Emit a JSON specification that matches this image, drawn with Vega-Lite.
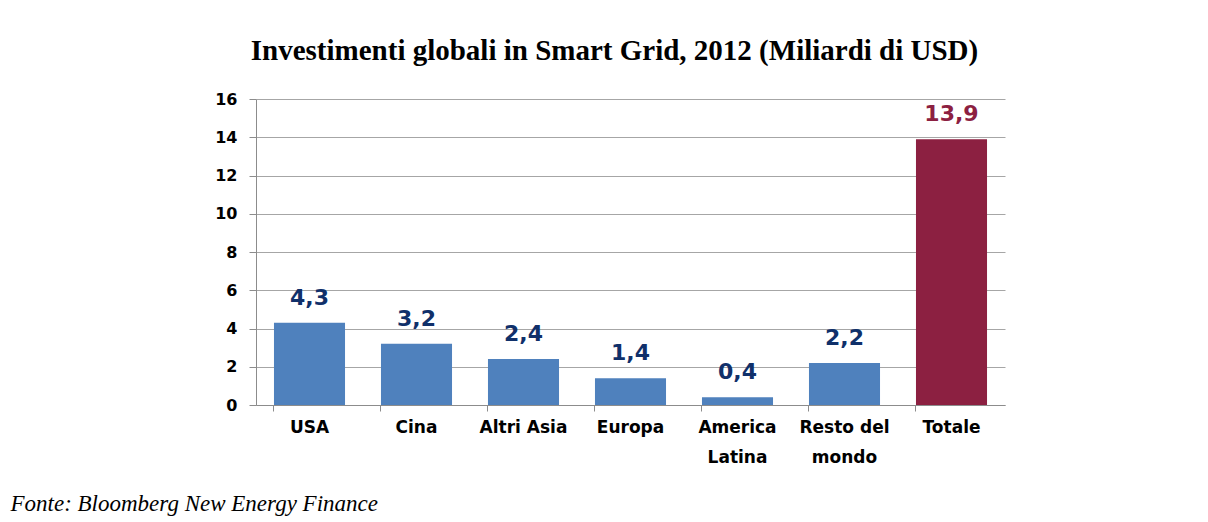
{
  "$schema": "https://vega.github.io/schema/vega-lite/v6.json",
  "autosize": "none",
  "width": 749,
  "height": 306,
  "padding": {"left": 256, "top": 99, "right": 203, "bottom": 117},
  "background": "white",
  "config": {
    "view": {"stroke": null},
    "locale": {"number": {"decimal": ",", "thousands": ".", "grouping": [3], "currency": ["", " €"]}}
  },
  "title": {
    "text": "Investimenti globali in Smart Grid, 2012 (Miliardi di USD)",
    "font": "Liberation Serif",
    "fontSize": 29,
    "fontWeight": "bold",
    "color": "black",
    "anchor": "middle",
    "dx": -16,
    "baseline": "alphabetic",
    "offset": 2
  },
  "data": {
    "values": [
      {"cat": "USA", "val": 4.3, "tipo": "regione"},
      {"cat": "Cina", "val": 3.2, "tipo": "regione"},
      {"cat": "Altri Asia", "val": 2.4, "tipo": "regione"},
      {"cat": "Europa", "val": 1.4, "tipo": "regione"},
      {"cat": "America Latina", "val": 0.4, "tipo": "regione"},
      {"cat": "Resto del mondo", "val": 2.2, "tipo": "regione"},
      {"cat": "Totale", "val": 13.9, "tipo": "totale"}
    ]
  },
  "encoding": {
    "y": {
      "field": "val", "type": "quantitative",
      "scale": {"domain": [0, 16]},
      "axis": {
        "title": null,
        "values": [0, 2, 4, 6, 8, 10, 12, 14, 16],
        "labelFont": "DejaVu Sans",
        "labelFontWeight": "bold",
        "labelFontSize": 16,
        "labelColor": "black",
        "labelPadding": 12,
        "tickSize": 7,
        "tickColor": "#8C8C8C",
        "domainColor": "#8C8C8C",
        "gridColor": "#A6A6A6",
        "grid": true
      }
    }
  },
  "layer": [
    {
      "mark": {"type": "bar"},
      "encoding": {
        "x": {
          "field": "cat", "type": "nominal", "sort": null,
          "scale": {"paddingInner": 0.336, "paddingOuter": 0.168},
          "axis": {
            "orient": "bottom",
            "title": null,
            "labelAngle": 0,
            "labelFont": "DejaVu Sans",
            "labelFontWeight": "bold",
            "labelFontSize": 17,
            "labelColor": "black",
            "labelBaseline": "top",
            "labelPadding": 14,
            "labelLineHeight": 30,
            "labelExpr": "datum.label == 'America Latina' ? ['America','Latina'] : datum.label == 'Resto del mondo' ? ['Resto del','mondo'] : datum.label",
            "ticks": false,
            "domain": true,
            "domainColor": "#8C8C8C",
            "domainWidth": 1
          }
        },
        "color": {
          "field": "tipo", "type": "nominal",
          "scale": {"domain": ["regione", "totale"], "range": ["#4F81BD", "#8C2041"]},
          "legend": null
        }
      }
    },
    {
      "mark": {"type": "text", "baseline": "alphabetic", "dy": -18, "font": "DejaVu Sans", "fontWeight": "bold", "fontSize": 22},
      "encoding": {
        "x": {
          "field": "cat", "type": "nominal", "sort": null,
          "axis": {
            "orient": "bottom",
            "bandPosition": 0,
            "labels": false,
            "domain": false,
            "ticks": true,
            "tickSize": 6,
            "tickColor": "#8C8C8C",
            "title": "Fonte: Bloomberg New Energy Finance",
            "titleFont": "Liberation Serif",
            "titleFontStyle": "italic",
            "titleFontWeight": "normal",
            "titleFontSize": 23,
            "titleColor": "black",
            "titleAlign": "left",
            "titleAnchor": "start",
            "titleBaseline": "alphabetic",
            "titleX": -246,
            "titleY": 105
          }
        },
        "text": {"field": "val", "type": "quantitative", "format": ".1f"},
        "color": {
          "field": "tipo", "type": "nominal",
          "scale": {"domain": ["regione", "totale"], "range": ["#10306A", "#8C2041"]},
          "legend": null
        }
      }
    }
  ],
  "resolve": {"axis": {"x": "independent"}, "scale": {"color": "independent"}}
}
